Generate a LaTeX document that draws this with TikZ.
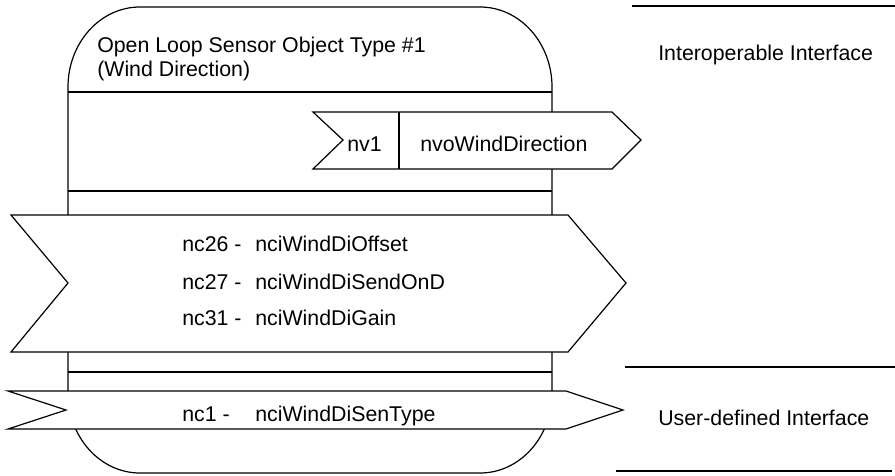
\documentclass[tikz,border=0pt]{standalone}
\usepackage{fontspec}
\setmainfont{Liberation Sans}
\begin{document}
\begin{tikzpicture}[x=0.75pt,y=-0.75pt,
  outline/.style={line width=0.9pt, line join=miter},
  label/.style={anchor=base west, inner sep=0pt, font=\fontsize{16}{19}\selectfont},
  banner/.style={outline, fill=white}]
\useasboundingbox (0,0) rectangle (895,475);

% object body: rounded outline with section dividers
\draw[outline] (68,87) .. controls (68,43) and (100,7) .. (140,7)
  -- (480,7) .. controls (520,7) and (552,43) .. (552,87)
  -- (552,393) .. controls (552,437) and (520,473) .. (480,473)
  -- (140,473) .. controls (100,473) and (68,437) .. (68,393) -- cycle;
\draw[outline] (68,92) -- (552,92);
\draw[outline] (68,191) -- (552,191);
\draw[outline] (68,372) -- (552,372);

% network variable banner
\draw[banner] (313,112) -- (612,112) -- (641,140) -- (612,169) -- (313,169) -- (343,140) -- cycle;
\draw[outline] (399,112) -- (399,169);

% configuration property banners
\draw[banner] (11,215) -- (568,215) -- (626,283) -- (568,352) -- (11,352) -- (68,283) -- cycle;
\draw[banner] (8,391) -- (566,391) -- (623,410) -- (566,429) -- (8,429) -- (66,410) -- cycle;

% interface separators
\draw[outline] (632,6) -- (895,6);
\draw[outline] (625,367) -- (895,367);
\draw[outline] (616,471) -- (892,471);

% texts
\node[label] (title1) at (97,52) {Open Loop Sensor Object Type \#1};
\node[label] (title2) at (97,76) {(Wind Direction)};
\node[label] (nvnum) at (347,151) {nv1};
\node[label] (nvname) at (420,151) {nvoWindDirection};
\node[label] (nc26) at (182,251) {nc26 -};
\node[label] (nc26n) at (255,251) {nciWindDiOffset};
\node[label] (nc27) at (182,289) {nc27 -};
\node[label] (nc27n) at (255,289) {nciWindDiSendOnD};
\node[label] (nc31) at (182,325) {nc31 -};
\node[label] (nc31n) at (255,325) {nciWindDiGain};
\node[label] (nc1) at (182,421) {nc1 -};
\node[label] (nc1n) at (255,421) {nciWindDiSenType};
\node[label] (iop) at (658,60) {Interoperable Interface};
\node[label] (udef) at (658,425) {User-defined Interface};
\end{tikzpicture}
\end{document}
